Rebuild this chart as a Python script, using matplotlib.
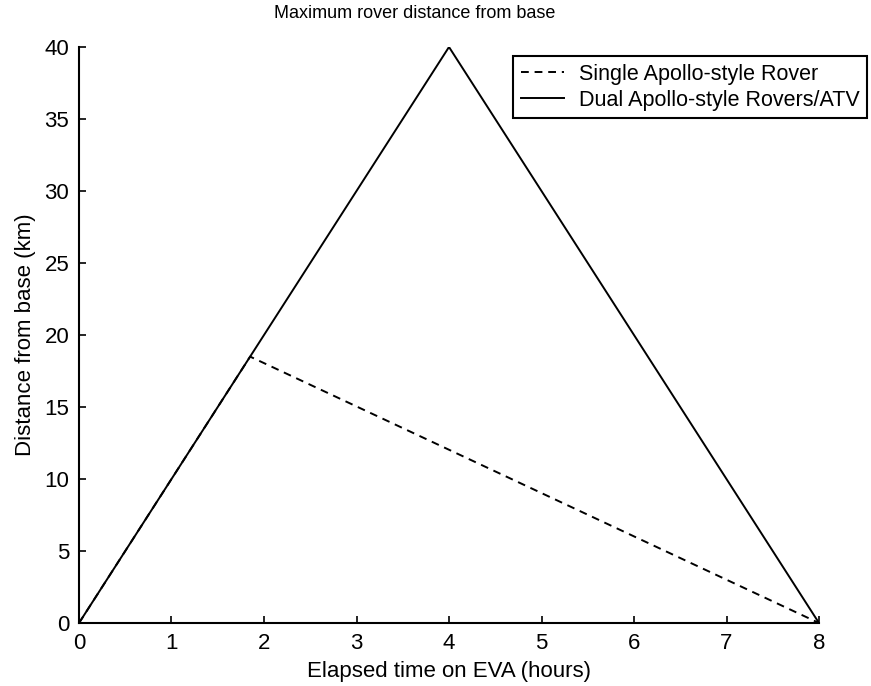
import matplotlib
matplotlib.use("Agg")
import matplotlib.pyplot as plt

# Elapsed EVA time (hours) and maximum distance from base (km)
single_time = [0.0, 1.85, 8.0]
single_dist = [0.0, 18.5, 0.0]
dual_time = [0.0, 4.0, 8.0]
dual_dist = [0.0, 40.0, 0.0]

x_ticks = [0, 1, 2, 3, 4, 5, 6, 7, 8]
y_ticks = [0, 5, 10, 15, 20, 25, 30, 35, 40]

plt.rcParams['font.family'] = ['Liberation Sans', 'DejaVu Sans']

fig = plt.figure(figsize=(8.71, 6.86), dpi=100)
ax = fig.add_axes([0.0907, 0.0918, 0.8496, 0.8397])

l1, = ax.plot(single_time, single_dist, color='black', lw=1.4,
              linestyle=(0, (4, 3)), label='Single Apollo-style Rover')
l2, = ax.plot(dual_time, dual_dist, color='black', lw=1.4,
              label='Dual Apollo-style Rovers/ATV')

ax.set_xlim(0, 8)
ax.set_ylim(0, 40)
ax.set_xticks(x_ticks)
ax.set_yticks(y_ticks)
ax.tick_params(direction='in', length=5, width=1.2, pad=7, labelsize=16)
for side in ('top', 'right'):
    ax.spines[side].set_visible(False)
for side in ('left', 'bottom'):
    ax.spines[side].set_linewidth(1.5)

ax.set_title('Maximum rover distance from base', fontsize=13, pad=21, x=0.453)
ax.set_xlabel('Elapsed time on EVA (hours)', fontsize=16, labelpad=5)
ax.set_ylabel('Distance from base (km)', fontsize=16, labelpad=6)

leg = fig.legend(handles=[l1, l2], loc='upper right',
                 bbox_to_anchor=(867 / 871, 1 - 56 / 686),
                 fontsize=15.5, frameon=True, fancybox=False,
                 edgecolor='black', framealpha=1, handlelength=2.0,
                 borderpad=0.35, labelspacing=0.25, handletextpad=0.7,
                 borderaxespad=0)
leg.get_frame().set_linewidth(1.5)

fig.savefig('out.png', dpi=100)
